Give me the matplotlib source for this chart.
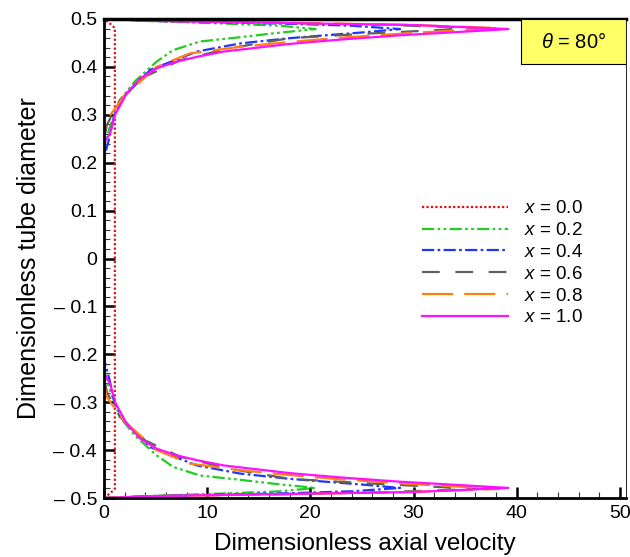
import numpy as np
import matplotlib
matplotlib.use("Agg")
import matplotlib.pyplot as plt
from matplotlib.patches import Rectangle
from matplotlib.ticker import MultipleLocator, FixedLocator, FixedFormatter

plt.rcParams['font.family'] = ['Liberation Sans', 'DejaVu Sans']
plt.rcParams['mathtext.fontset'] = 'custom'
plt.rcParams['mathtext.rm'] = 'Liberation Sans'
plt.rcParams['mathtext.it'] = 'Liberation Sans:italic'

# upper half of each profile (y from centre to wall), lower half is the mirror image
y_00 = [0.0, 0.481, 0.490, 0.498, 0.5]
u_00 = [1.05, 1.05, 0.6, 0.1, 0.0]

y_02 = [0.0, 0.23, 0.27, 0.331, 0.37, 0.411, 0.435, 0.453, 0.462, 0.470, 0.479, 0.486, 0.491, 0.496, 0.5]
u_02 = [0.0, 0.0, 0.5, 1.55, 3.0, 5.1, 6.7, 9.3, 13.2, 16.4, 20.5, 17.0, 11.0, 4.0, 0.0]

y_04 = [0.0, 0.21, 0.25, 0.30, 0.34, 0.394, 0.432, 0.449, 0.460, 0.466, 0.472, 0.479, 0.486, 0.490, 0.495, 0.5]
u_04 = [0.0, 0.0, 0.5, 1.0, 2.0, 4.5, 9.0, 13.2, 18.0, 21.5, 25.1, 28.7, 24.0, 18.0, 6.0, 0.0]

y_06 = [0.0, 0.25, 0.28, 0.331, 0.38, 0.414, 0.439, 0.460, 0.470, 0.481, 0.488, 0.492, 0.496, 0.5]
u_06 = [0.0, 0.0, 0.3, 1.55, 4.0, 7.4, 12.2, 18.0, 26.0, 36.2, 27.0, 17.0, 5.0, 0.0]

y_08 = [0.0, 0.26, 0.289, 0.338, 0.40, 0.428, 0.442, 0.452, 0.461, 0.471, 0.481, 0.488, 0.492, 0.496, 0.5]
u_08 = [0.0, 0.0, 0.26, 1.9, 5.1, 8.3, 13.2, 18.0, 22.9, 30.0, 38.3, 29.0, 18.0, 5.0, 0.0]

y_10 = [0.0, 0.24, 0.262, 0.30, 0.345, 0.376, 0.397, 0.411, 0.421, 0.432, 0.440, 0.448, 0.457, 0.466, 0.473, 0.479, 0.4875, 0.491, 0.496, 0.5]
u_10 = [0.0, 0.0, 0.6, 1.07, 2.2, 3.5, 5.1, 7.05, 9.0, 11.6, 14.8, 18.0, 22.9, 28.7, 34.5, 39.2, 30.0, 19.0, 5.0, 0.0]

labels = ['$x$ = 0.0', '$x$ = 0.2', '$x$ = 0.4', '$x$ = 0.6', '$x$ = 0.8', '$x$ = 1.0']
colors = ['#e01010', '#22cc22', '#2035ff', '#606060', '#ff8010', '#ff10ff']
styles = [(0, (1, 1)), (0, (5.5, 1.5, 1.2, 1.5, 1.2, 1.5)), (0, (5.5, 1.5, 1.2, 1.5)),
          (0, (8, 7)), (0, (14, 5)), '-']

yticks = [-0.5, -0.4, -0.3, -0.2, -0.1, 0, 0.1, 0.2, 0.3, 0.4, 0.5]
ytick_labels = ['\u2013 0.5', '\u2013 0.4', '\u2013 0.3', '\u2013 0.2', '\u2013 0.1', '0',
                '0.1', '0.2', '0.3', '0.4', '0.5']


def full_profile(y, u):
    y = np.array(y)
    u = np.array(u)
    return np.concatenate([u[::-1], u[1:]]), np.concatenate([-y[::-1], y[1:]])


fig = plt.figure(figsize=(6.3, 5.57), dpi=100)
ax = fig.add_axes([0.1651, 0.1059, 0.8286, 0.86])

profiles = [(y_00, u_00), (y_02, u_02), (y_04, u_04), (y_06, u_06), (y_08, u_08), (y_10, u_10)]
for (y, u), lab, c, ls in zip(profiles, labels, colors, styles):
    uu, yy = full_profile(y, u)
    ax.plot(uu, yy, color=c, linestyle=ls, linewidth=1.6, label=lab)

ax.set_xlim(0, 50.6)
ax.set_ylim(-0.5, 0.5)

ax.xaxis.set_major_locator(MultipleLocator(10))
ax.xaxis.set_minor_locator(MultipleLocator(2))
ax.yaxis.set_major_locator(FixedLocator(yticks))
ax.yaxis.set_major_formatter(FixedFormatter(ytick_labels))
ax.yaxis.set_minor_locator(MultipleLocator(0.02))
ax.tick_params(which='both', direction='in', top=False, right=False, labelsize=14)
ax.tick_params(which='major', length=8, width=1.8, pad=5)
ax.tick_params(which='minor', length=4, width=0.8, color='#333333')

ax.spines['top'].set_linewidth(2.5)
ax.spines['left'].set_linewidth(2.0)
ax.spines['bottom'].set_linewidth(2.0)
ax.spines['right'].set_linewidth(0.6)

ax.set_xlabel('Dimensionless axial velocity', fontsize=17.5, labelpad=8)
ax.set_ylabel('Dimensionless tube diameter', fontsize=18, labelpad=9)

ax.legend(loc='center left', bbox_to_anchor=(0.595, 0.49), frameon=False, fontsize=13.5,
          handlelength=4.6, handletextpad=0.85, labelspacing=0.25, borderaxespad=0)

ax.add_patch(Rectangle((0.799, 0.906), 0.201, 0.094, transform=ax.transAxes,
                       facecolor='#ffff66', edgecolor='black', linewidth=0.8, zorder=5))
ax.text(0.8995, 0.953, r'$\theta$ = 80°', transform=ax.transAxes, ha='center', va='center',
        fontsize=14.5, zorder=6)

fig.savefig('out.png', dpi=100)
